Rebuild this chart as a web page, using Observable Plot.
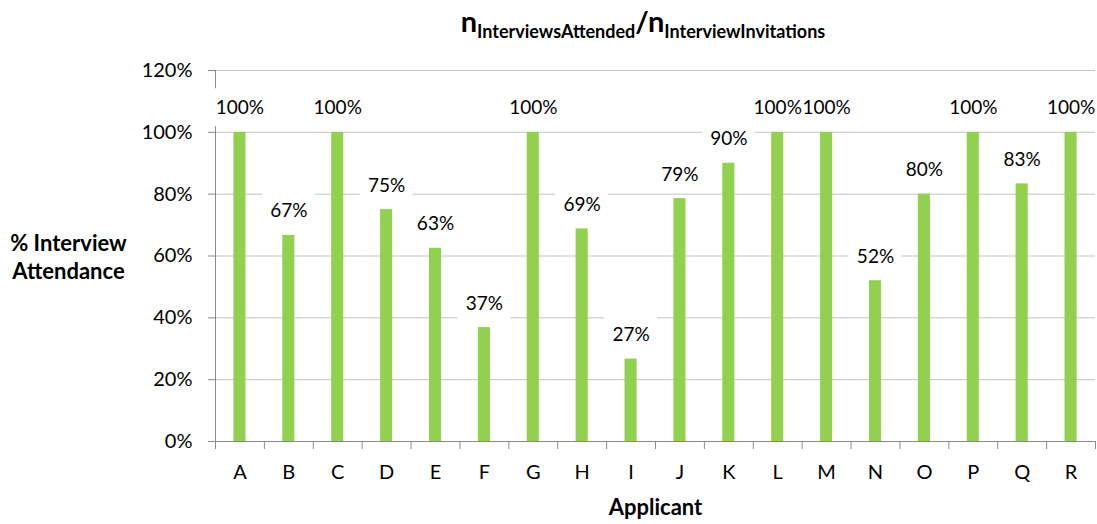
<!DOCTYPE html>
<html>
<head>
<meta charset="utf-8">
<script src="https://cdn.jsdelivr.net/npm/d3@7"></script>
<script src="https://cdn.jsdelivr.net/npm/@observablehq/plot@0.6"></script>
<style>
  html, body { margin: 0; padding: 0; background: #fff; }
  #title { height: 48px; position: relative; font-family: Lato, sans-serif; font-weight: bold; color: #000; }
  #title .t { position: absolute; left: 643px; top: 6px; transform: translateX(-50%); white-space: nowrap; line-height: 1; }
  #title .big { font-size: 29px; }
  #title .sub { font-size: 18px; vertical-align: -6px; }
</style>
</head>
<body>
<div id="title"><div class="t"><span class="big">n</span><span class="sub">InterviewsAttended</span><span class="big">/n</span><span class="sub">InterviewInvitations</span></div></div>
<div id="chart"></div>
<script>
const applicants = ["A","B","C","D","E","F","G","H","I","J","K","L","M","N","O","P","Q","R"];
const attendance = [1, 0.6667, 1, 0.75, 0.625, 0.3684, 1, 0.6875, 0.2667, 0.7857, 0.9, 1, 1, 0.52, 0.8, 1, 0.8333, 1];
const yTicks = [0, 0.2, 0.4, 0.6, 0.8, 1.0, 1.2];
const yTitle = "% Interview\nAttendance";
const xTitle = "Applicant";

const data = applicants.map((a, i) => ({applicant: a, value: attendance[i]}));

const W = 1097, H = 476;
const mL = 215, mR = 2, mT = 22, mB = 83;
const step = (W - mL - mR) / applicants.length;
const pct = d3.format(".0%");
const gridColor = "#c3c3c3";
const axisColor = "#8a8a8a";
const fs = 20;

const chart = Plot.plot({
  width: W,
  height: H,
  marginLeft: mL,
  marginRight: mR,
  marginTop: mT,
  marginBottom: mB,
  style: {fontFamily: "Lato, sans-serif", fontSize: fs + "px", color: "#000", background: "#fff"},
  x: {domain: applicants, padding: 0, round: false, label: null},
  y: {domain: [0, 1.2], label: null},
  marks: [
    Plot.gridY(yTicks, {stroke: gridColor, strokeOpacity: 1}),
    Plot.ruleX([applicants[0]], {dx: -step / 2, stroke: axisColor}),
    Plot.tickY(data, {x: "applicant", y: "value", stroke: "white", strokeWidth: 38, dy: -25, insetLeft: -2, insetRight: -2}),
    Plot.barY(data, {x: "applicant", y: "value", fill: "#92D050", insetLeft: 18.4, insetRight: 18.4}),
    Plot.ruleY([0], {stroke: axisColor}),
    Plot.axisY(yTicks, {tickFormat: pct, tickSize: 7, tickPadding: 16, stroke: axisColor, fill: "#000", fontSize: fs, label: null}),
    Plot.axisX(applicants, {tickSize: 8, tickFormat: () => "", dx: -step / 2, stroke: axisColor, label: null}),
    Plot.axisX([applicants[applicants.length - 1]], {tickSize: 8, tickFormat: () => "", dx: step / 2, stroke: axisColor, label: null}),
    Plot.axisX(applicants, {tickSize: 0, tickPadding: 23, fill: "#000", fontSize: fs, label: null}),
    Plot.text(data, {x: "applicant", y: "value", text: d => pct(d.value), dy: -24, fill: "#000", fontSize: 19}),
    Plot.text([yTitle], {frameAnchor: "left", dx: -147, fontWeight: "bold", fontSize: 22, lineHeight: 1.27, textAnchor: "middle", fill: "#000"}),
    Plot.text([xTitle], {frameAnchor: "bottom", dy: 73, fontWeight: "bold", fontSize: 22, fill: "#000"})
  ]
});
document.getElementById("chart").appendChild(chart);
</script>
</body>
</html>
